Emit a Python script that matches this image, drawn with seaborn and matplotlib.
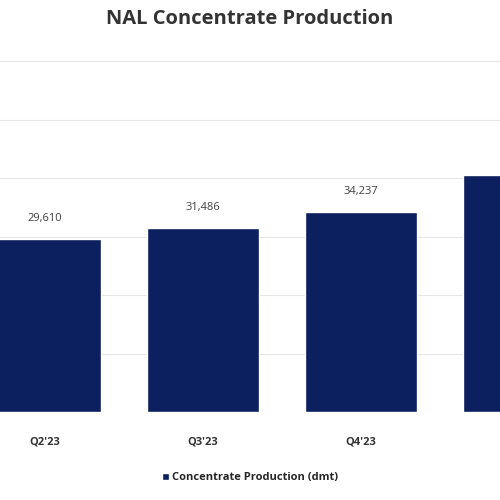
import matplotlib
matplotlib.use("Agg")
import matplotlib.pyplot as plt
import seaborn as sns
import pandas as pd

quarters = ["Q2'23", "Q3'23", "Q4'23", "Q1'24"]
production = [29610, 31486, 34237, 40600]
value_labels = ["29,610", "31,486", "34,237", ""]

sns.set_theme(style="white")
plt.rcParams['font.family'] = ['Open Sans', 'DejaVu Sans']
df = pd.DataFrame({"q": quarters, "v": production})

fig = plt.figure(figsize=(5, 5), dpi=100)
ax = fig.add_axes([0, 0.176, 1, 0.744])
sns.barplot(data=df, x="q", y="v", color="#0c1f5e", width=0.71, saturation=1, ax=ax,
            label="Concentrate Production (dmt)")
ax.set_xlim(-0.285, 2.88)
ax.set_ylim(0, 63600)
ax.set_yticks(range(0, 70000, 10000))
ax.yaxis.grid(True, color="#e6e6e6", lw=0.8)
ax.set_axisbelow(True)
ax.set_yticklabels([])
ax.tick_params(axis="y", length=0)
ax.tick_params(axis="x", length=0, labelsize=8, pad=18, colors="#333333")
for lab in ax.get_xticklabels():
    lab.set_fontweight("bold")
ax.set_xlabel(""); ax.set_ylabel("")
for s in ax.spines.values():
    s.set_visible(False)
for i, (v, t) in enumerate(zip(production, value_labels)):
    if t:
        ax.text(i, v + 2500, t, ha="center", va="bottom", fontsize=8, color="#404040")
fig.text(0.5, 0.962, "NAL Concentrate Production", ha="center", va="center",
         fontsize=14.5, fontweight="bold", color="#333333")
leg = ax.legend(loc="upper center", bbox_to_anchor=(0.5, -0.135), frameon=False, fontsize=8,
                handlelength=0.6, handleheight=0.6, handletextpad=0.3)
for t in leg.get_texts():
    t.set_fontweight("bold")
fig.savefig("out.png")
